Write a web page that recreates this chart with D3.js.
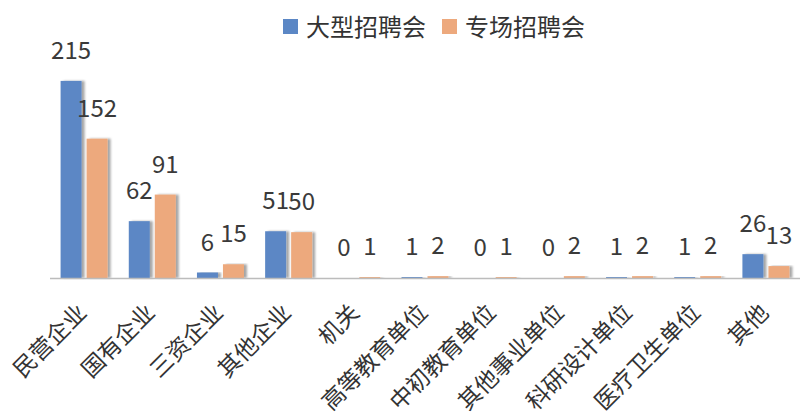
<!DOCTYPE html>
<html>
<head>
<meta charset="utf-8">
<script src="https://cdn.jsdelivr.net/npm/d3@7"></script>
<style>
  body { margin: 0; background: #fff; }
  svg { display: block; font-family: "Noto Sans CJK SC", "Noto Sans", sans-serif; }
</style>
</head>
<body>
<svg id="chart" width="800" height="415"></svg>
<script>
// categories + the two series
var categories = ["民营企业", "国有企业", "三资企业", "其他企业", "机关", "高等教育单位",
                  "中初教育单位", "其他事业单位", "科研设计单位", "医疗卫生单位", "其他"];
var seriesNames = ["大型招聘会", "专场招聘会"];
var largeFair = [215, 62, 6, 51, 0, 1, 0, 0, 1, 1, 26];
var specialFair = [152, 91, 15, 50, 1, 2, 1, 2, 2, 2, 13];
var colors = ["#5b87c5", "#eda97d"];

var margin = {top: 58, left: 50, right: 0},
    baseY = 278;

var svg = d3.select("#chart");

// bar shadow like the office chart
var defs = svg.append("defs");
var f = defs.append("filter").attr("id", "shadow")
    .attr("x", "-20%").attr("y", "-5%").attr("width", "160%").attr("height", "110%");
f.append("feDropShadow")
    .attr("dx", 3).attr("dy", 0).attr("stdDeviation", 1.2)
    .attr("flood-color", "#000").attr("flood-opacity", 0.35);

var x0 = d3.scaleBand()
    .domain(categories)
    .range([margin.left, 800 - margin.right]);

var x1 = d3.scaleBand()
    .domain(seriesNames)
    .range([0, 47])
    .paddingInner(0.192);

var y = d3.scaleLinear()
    .domain([0, 240])
    .range([baseY, margin.top]);

var rows = categories.map(function(c, i) {
  return {cat: c, vals: [
    {name: seriesNames[0], value: largeFair[i], color: colors[0]},
    {name: seriesNames[1], value: specialFair[i], color: colors[1]}
  ]};
});

var groupOffset = (x0.bandwidth() - 47) / 2;

var groups = svg.selectAll(".grp")
  .data(rows)
  .enter()
  .append("g")
    .attr("class", "grp")
    .attr("transform", function(d) { return "translate(" + (x0(d.cat) + groupOffset) + ",0)"; });

groups.selectAll("rect")
  .data(function(d) { return d.vals; })
  .enter()
  .append("rect")
    .attr("x", function(d) { return x1(d.name); })
    .attr("y", function(d) { return y(d.value); })
    .attr("width", x1.bandwidth())
    .attr("height", function(d) { return baseY - y(d.value); })
    .attr("fill", function(d) { return d.color; })
    .attr("filter", "url(#shadow)");

// value labels
groups.selectAll("text.val")
  .data(function(d) { return d.vals; })
  .enter()
  .append("text")
    .attr("class", "val")
    .attr("x", function(d) { return x1(d.name) + x1.bandwidth() / 2; })
    .attr("y", function(d) { return y(d.value) - 22; })
    .attr("text-anchor", "middle")
    .attr("font-size", 24)
    .attr("fill", "#3a3a3a")
    .text(function(d) { return d.value; });

// axis line
svg.append("line")
    .attr("x1", margin.left).attr("x2", 800)
    .attr("y1", baseY + 0.5).attr("y2", baseY + 0.5)
    .attr("stroke", "#bcbcbc").attr("stroke-width", 1.5);

// category labels, rotated (long ones run off the bottom, as in the original)
svg.selectAll("text.cat")
  .data(categories)
  .enter()
  .append("text")
    .attr("class", "cat")
    .attr("text-anchor", "end")
    .attr("font-size", 23)
    .attr("fill", "#333")
    .attr("transform", function(d) {
      return "translate(" + (x0(d) + x0.bandwidth() / 2 + 4) + "," + 314 + ") rotate(-45)";
    })
    .text(function(d) { return d; });

// legend
var legend = svg.selectAll(".leg")
  .data(seriesNames)
  .enter()
  .append("g")
    .attr("class", "leg")
    .attr("transform", function(d, i) { return "translate(" + (i === 0 ? 283 : 442) + ",19)"; });

legend.append("rect")
    .attr("width", 15).attr("height", 15)
    .attr("fill", function(d, i) { return colors[i]; });

legend.append("text")
    .attr("x", 23).attr("y", 17)
    .attr("font-size", 24)
    .attr("fill", "#333")
    .text(function(d) { return d; });
</script>
</body>
</html>
